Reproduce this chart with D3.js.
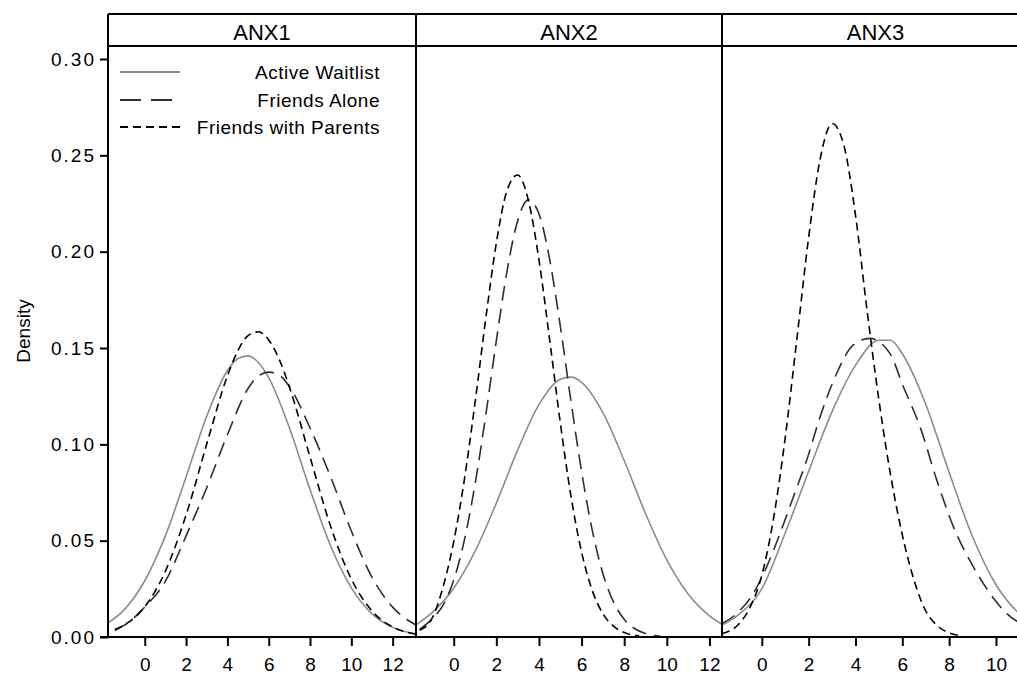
<!DOCTYPE html>
<html>
<head>
<meta charset="utf-8">
<script src="https://cdn.jsdelivr.net/npm/d3@7"></script>
<style>
  body { margin: 0; background: #fff; }
  svg { display: block; }
  text { font-family: "Liberation Sans", Arial, sans-serif; fill: #000; }
</style>
</head>
<body>
<svg id="chart" width="1017" height="675"></svg>
<script>
// ---- data -------------------------------------------------------------
const panelNames = ["ANX1", "ANX2", "ANX3"];
const groupNames = ["Active Waitlist", "Friends Alone", "Friends with Parents"];

const yTickValues = [0, 0.05, 0.10, 0.15, 0.20, 0.25, 0.30];
const xTickValues = [0, 2, 4, 6, 8, 10, 12];

// score range covered by each panel's density estimates
const anx1Range = [-1.78, 13.13];
const anx2Range = [-1.77, 12.59];
const anx3Range = [-1.70, 11.41];

// ANX1
const anx1WaitX = [-1.78, -1, 0, 1, 2, 3, 4, 4.5, 5, 5.5, 6, 7, 8, 9, 10, 11, 12, 13.13];
const anx1WaitY = [0.0073, 0.0141, 0.0292, 0.0526, 0.0831, 0.1146, 0.1383, 0.1444, 0.1459, 0.1425, 0.1346, 0.1086, 0.0766, 0.0472, 0.0255, 0.0120, 0.0050, 0.0016];
const anx1AloneX = [-1.45, -1, 0, 1, 2, 3, 4, 5, 5.5, 6, 6.5, 7, 8, 9, 10, 11, 12, 13.13];
const anx1AloneY = [0.0034, 0.0060, 0.0155, 0.0290, 0.0525, 0.0775, 0.1050, 0.1290, 0.1355, 0.1375, 0.1360, 0.1300, 0.1085, 0.0830, 0.0550, 0.0310, 0.0155, 0.0062];
const anx1ParentsX = [-1.45, -1, 0, 1, 2, 3, 4, 4.5, 5, 5.5, 6, 6.5, 7, 8, 9, 10, 11, 12, 13.13];
const anx1ParentsY = [0.0039, 0.0062, 0.0157, 0.0342, 0.0633, 0.1002, 0.1355, 0.1485, 0.1564, 0.1584, 0.1542, 0.1443, 0.1298, 0.0934, 0.0573, 0.0301, 0.0135, 0.0052, 0.0015];

// ANX2
const anx2WaitX = [-1.77, -1, 0, 1, 2, 3, 4, 5, 5.5, 6, 7, 8, 9, 10, 11, 12, 12.59];
const anx2WaitY = [0.0063, 0.0128, 0.0253, 0.0444, 0.0695, 0.0970, 0.1206, 0.1338, 0.1349, 0.1322, 0.1165, 0.0916, 0.0641, 0.0400, 0.0223, 0.0110, 0.0066];
const anx2AloneX = [-1.6, -1, -0.5, 0, 0.5, 1, 1.5, 2, 2.5, 3, 3.5, 4, 4.5, 5, 5.5, 6, 6.5, 7, 7.5, 8, 8.5, 9, 9.7];
const anx2AloneY = [0.0040, 0.0095, 0.0165, 0.0295, 0.0503, 0.0792, 0.1149, 0.1538, 0.1898, 0.2161, 0.2269, 0.2197, 0.1961, 0.1615, 0.1226, 0.0859, 0.0555, 0.0330, 0.0181, 0.0092, 0.0043, 0.0018, 0.0004];
const anx2ParentsX = [-1.6, -1, -0.5, 0, 0.5, 1, 1.5, 2, 2.5, 3, 3.5, 4, 4.5, 5, 5.5, 6, 6.5, 7, 7.5, 8, 8.7];
const anx2ParentsY = [0.0035, 0.0100, 0.0260, 0.0495, 0.0817, 0.1215, 0.1649, 0.2045, 0.2317, 0.2398, 0.2268, 0.1958, 0.1545, 0.1113, 0.0733, 0.0441, 0.0242, 0.0121, 0.0056, 0.0023, 0.0006];

// ANX3
const anx3WaitX = [-1.70, -1, 0, 1, 2, 3, 4, 5, 5.5, 6, 7, 8, 9, 10, 11, 11.41];
const anx3WaitY = [0.0062, 0.0115, 0.0250, 0.0540, 0.0860, 0.1170, 0.1410, 0.1540, 0.1540, 0.1470, 0.1208, 0.0854, 0.0520, 0.0271, 0.0122, 0.0085];
const anx3AloneX = [-1.70, -1, -0.36, 0.21, 0.78, 1.35, 1.92, 2.49, 3.2, 3.91, 4.6, 5.47, 6.04, 6.76, 7.47, 8.18, 9.03, 9.74, 10.45, 11.41];
const anx3AloneY = [0.0070, 0.0130, 0.0227, 0.0365, 0.0538, 0.0728, 0.0919, 0.1143, 0.1369, 0.1516, 0.1550, 0.1472, 0.1300, 0.1090, 0.0815, 0.0573, 0.0365, 0.0227, 0.0123, 0.0050];
const anx3ParentsX = [-1.70, -1, -0.5, 0, 0.5, 1, 1.5, 2, 2.5, 3, 3.5, 4, 4.5, 5, 5.5, 6, 6.5, 7, 7.5, 8, 8.4];
const anx3ParentsY = [0.0017, 0.0065, 0.0155, 0.0320, 0.0615, 0.1035, 0.1550, 0.2074, 0.2486, 0.2665, 0.2554, 0.2190, 0.1690, 0.1230, 0.0840, 0.0530, 0.0295, 0.0135, 0.0058, 0.0022, 0.0008];

// ---- assemble -----------------------------------------------------------
const zip = (xs, ys) => xs.map((x, i) => ({ x, y: ys[i] }));
const panels = [
  { name: panelNames[0], range: anx1Range, series: [zip(anx1WaitX, anx1WaitY), zip(anx1AloneX, anx1AloneY), zip(anx1ParentsX, anx1ParentsY)] },
  { name: panelNames[1], range: anx2Range, series: [zip(anx2WaitX, anx2WaitY), zip(anx2AloneX, anx2AloneY), zip(anx2ParentsX, anx2ParentsY)] },
  { name: panelNames[2], range: anx3Range, series: [zip(anx3WaitX, anx3WaitY), zip(anx3AloneX, anx3AloneY), zip(anx3ParentsX, anx3ParentsY)] }
];

const styles = [
  { stroke: "#8c8c8c", dash: null, legendDash: null, width: 1.6 },
  { stroke: "#303030", dash: "15,8", legendDash: "21,10", width: 1.6 },
  { stroke: "#000000", dash: "8,5", legendDash: "8,5", width: 1.6 }
];

// ---- layout --------------------------------------------------------------
const svg = d3.select("#chart");
const headerTop = 14, headerBottom = 46, plotBottom = 637;
const panelEdges = [108, 416, 722, 1029];

const y = d3.scaleLinear().domain([0, 0.30]).range([plotBottom, 59]);

// y axis
const yAxis = svg.append("g").attr("transform", `translate(${panelEdges[0]},0)`)
  .call(d3.axisLeft(y).tickValues(yTickValues).tickFormat(d3.format(".2f")).tickSize(8).tickPadding(4));
yAxis.select(".domain").remove();
yAxis.selectAll(".tick line").attr("stroke", "#000").attr("stroke-width", 2);
yAxis.selectAll(".tick text").attr("font-size", 19).attr("letter-spacing", 2)
  .attr("font-family", "Liberation Sans, Arial, sans-serif").attr("fill", "#000");

svg.append("text")
  .attr("transform", "translate(30,331) rotate(-90)")
  .attr("text-anchor", "middle")
  .attr("font-size", 19)
  .text("Density");

const line = (xs) => d3.line().x(d => xs(d.x)).y(d => y(d.y)).curve(d3.curveMonotoneX);

panels.forEach((p, i) => {
  const x0 = panelEdges[i], x1 = panelEdges[i + 1];
  const x = d3.scaleLinear().domain(p.range).range([x0, x1]);
  const g = svg.append("g");

  // x axis ticks
  const ticks = xTickValues.filter(v => v >= p.range[0] && v <= p.range[1]);
  const xa = g.append("g").attr("transform", `translate(0,${plotBottom})`)
    .call(d3.axisBottom(x).tickValues(ticks).tickFormat(d3.format("d")).tickSize(9).tickPadding(12));
  xa.select(".domain").remove();
  xa.selectAll(".tick line").attr("stroke", "#000").attr("stroke-width", 2);
  xa.selectAll(".tick text").attr("font-size", 19).attr("fill", "#000")
    .attr("font-family", "Liberation Sans, Arial, sans-serif");

  // density curves
  p.series.forEach((s, k) => {
    const st = styles[k];
    g.append("path").datum(s)
      .attr("d", line(x))
      .attr("fill", "none")
      .attr("stroke", st.stroke)
      .attr("stroke-width", st.width)
      .attr("stroke-dasharray", st.dash);
  });

  // panel header label
  g.append("text")
    .attr("x", (x0 + x1) / 2).attr("y", 40)
    .attr("text-anchor", "middle")
    .attr("font-size", 22)
    .text(p.name);
});

// frame: header band, dividers, baseline
const frame = svg.append("g").attr("stroke", "#000").attr("stroke-width", 2).attr("fill", "none");
frame.append("line").attr("x1", panelEdges[0]).attr("x2", 1017).attr("y1", headerTop).attr("y2", headerTop);
frame.append("line").attr("x1", panelEdges[0]).attr("x2", 1017).attr("y1", headerBottom).attr("y2", headerBottom);
frame.append("line").attr("x1", 100).attr("x2", 1017).attr("y1", plotBottom).attr("y2", plotBottom);
panelEdges.slice(0, 3).forEach(e => {
  frame.append("line").attr("x1", e).attr("x2", e).attr("y1", headerTop).attr("y2", plotBottom);
});

// legend inside the first panel
const legend = svg.append("g");
const legendRows = [72, 100, 127];
groupNames.forEach((name, k) => {
  const st = styles[k];
  legend.append("line")
    .attr("x1", 120).attr("x2", 180)
    .attr("y1", legendRows[k]).attr("y2", legendRows[k])
    .attr("stroke", st.stroke).attr("stroke-width", 1.8)
    .attr("stroke-dasharray", st.legendDash);
  legend.append("text")
    .attr("x", 380).attr("y", legendRows[k] + 7)
    .attr("text-anchor", "end")
    .attr("font-size", 19)
    .attr("letter-spacing", 0.5)
    .text(name);
});
</script>
</body>
</html>
